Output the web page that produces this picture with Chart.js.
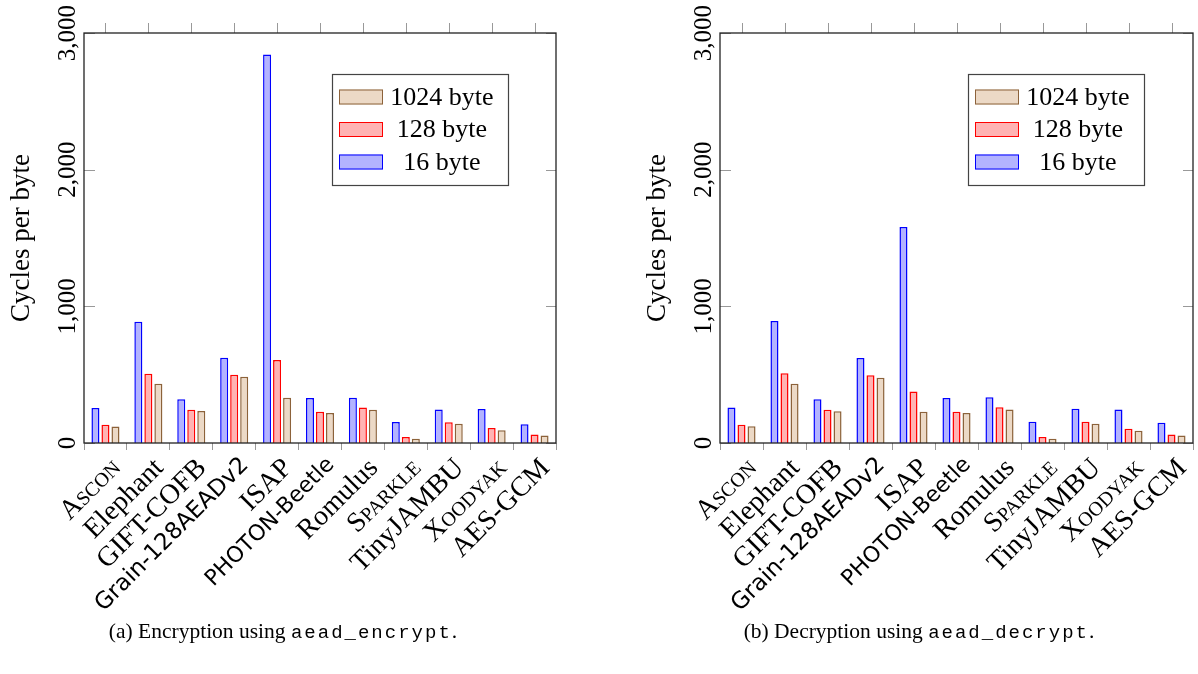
<!DOCTYPE html>
<html>
<head>
<meta charset="utf-8">
<script src="https://cdn.jsdelivr.net/npm/chart.js@4.4.1/dist/chart.umd.min.js"></script>
<style>
    body { margin: 0; background: #fff; width: 1198px; height: 674px; position: relative; overflow: hidden; }
    canvas { position: absolute; top: 0; }
    #encChart { left: 0; }
    #decChart { left: 636px; }
    .caption { position: absolute; top: 619px; white-space: nowrap; transform: translateX(-50%);
               font-family: "Liberation Serif", serif; font-size: 21.5px; color: #000; }
    .caption code { font-family: "Liberation Mono", monospace; font-size: 19px; letter-spacing: 2px; }
</style>
</head>
<body>
<canvas id="encChart" width="570" height="674"></canvas>
<canvas id="decChart" width="562" height="674"></canvas>
<div class="caption" style="left:283px">(a) Encryption using <code>aead_encrypt</code>.</div>
<div class="caption" style="left:919px">(b) Decryption using <code>aead_decrypt</code>.</div>
<script>
// Categories and measured cycles per byte
const schemes = ["Ascon", "Elephant", "GIFT-COFB", "Grain-128AEADv2", "ISAP", "PHOTON-Beetle",
                 "Romulus", "Sparkle", "TinyJAMBU", "Xoodyak", "AES-GCM"];
const seriesLabels = ["16 byte", "128 byte", "1024 byte"];

const enc16   = [256, 888, 320, 624, 2843, 329, 332, 154, 246, 249, 137];
const enc128  = [134, 507, 244, 500, 607, 229, 259, 44, 151, 110, 63];
const enc1024 = [120, 434, 234, 485, 332, 220, 244, 32, 141, 93, 54];

const dec16   = [259, 893, 320, 622, 1580, 329, 334, 156, 251, 246, 149];
const dec128  = [134, 510, 244, 495, 376, 229, 261, 44, 156, 105, 63];
const dec1024 = [122, 434, 232, 478, 229, 220, 246, 32, 141, 90, 54];

const yTickValues = [0, 1000, 2000, 3000];
const yTickLabels = ["0", "1,000", "2,000", "3,000"];

const fills   = ["rgb(179,179,255)", "rgb(255,179,179)", "rgb(236,217,198)"];
const borders = ["rgb(0,0,255)", "rgb(255,0,0)", "rgb(140,98,58)"];

const SERIF = "Liberation Serif";
const smallCaps = [0, 7, 9];         // Ascon, Sparkle, Xoodyak
const sansLabels = { 3: 23, 5: 22 }; // Grain, PHOTON-Beetle

function tickFont(ctx) {
    const i = ctx.index;
    if (sansLabels[i]) return { family: "DejaVu Sans", size: sansLabels[i] };
    if (smallCaps.includes(i)) return { family: SERIF, size: 28, weight: "small-caps" };
    return { family: SERIF, size: 28 };
}

// box, inner ticks, rotated y labels and the legend box
const framePlugin = {
    id: "frame",
    afterDatasetsDraw(chart) {
        const c = chart.ctx;
        const a = chart.chartArea;
        const y = chart.scales.y;
        const x = chart.scales.x;
        c.save();

        c.strokeStyle = "#999";
        c.lineWidth = 1;
        c.beginPath();
        yTickValues.forEach(v => {
            const py = Math.round(y.getPixelForValue(v)) + 0.5;
            c.moveTo(a.left, py); c.lineTo(a.left + 11, py);
            c.moveTo(a.right, py); c.lineTo(a.right - 10, py);
        });
        schemes.forEach((s, i) => {
            const px = Math.round(x.getPixelForTick(i)) + 0.5;
            c.moveTo(px, a.top); c.lineTo(px, a.top - 10);
        });
        c.stroke();

        c.strokeStyle = "#222";
        c.lineWidth = 1.3;
        c.strokeRect(a.left, a.top, a.right - a.left, a.bottom - a.top);

        c.fillStyle = "#000";
        c.font = Chart.helpers.toFont({ family: SERIF, size: 25 }).string;
        c.textAlign = "center";
        c.textBaseline = "middle";
        yTickValues.forEach((v, i) => {
            c.save();
            c.translate(a.left - 16, y.getPixelForValue(v));
            c.rotate(-Math.PI / 2);
            c.fillText(yTickLabels[i], 0, 0);
            c.restore();
        });

        // legend
        const lx = a.left + 248, ly = a.top + 41;
        c.fillStyle = "#fff";
        c.fillRect(lx, ly, 176, 111);
        c.strokeStyle = "#444";
        c.lineWidth = 1.2;
        c.strokeRect(lx + 0.5, ly + 0.5, 176, 111);
        c.font = Chart.helpers.toFont({ family: SERIF, size: 26 }).string;
        const order = [2, 1, 0];
        order.forEach((d, k) => {
            const ds = chart.data.datasets[d];
            const cy = ly + 23 + k * 32.5;
            c.fillStyle = ds.backgroundColor;
            c.fillRect(lx + 7, cy - 7.5, 44, 15);
            c.strokeStyle = ds.borderColor;
            c.lineWidth = 1;
            c.strokeRect(lx + 7.5, cy - 7, 43, 14);
            c.fillStyle = "#000";
            c.fillText(ds.label, lx + 110, cy + 1);
        });
        c.restore();
    }
};

function makeChart(canvasId, v16, v128, v1024, rightPad) {
    const values = [v16, v128, v1024];
    return new Chart(document.getElementById(canvasId), {
        type: "bar",
        data: {
            labels: schemes,
            datasets: seriesLabels.map((label, i) => ({
                label: label,
                data: values[i],
                backgroundColor: fills[i],
                borderColor: borders[i],
                borderWidth: 1.5,
                categoryPercentage: 0.7,
                barPercentage: 0.8
            }))
        },
        options: {
            responsive: false,
            animation: false,
            devicePixelRatio: 1,
            layout: { padding: { left: 0, right: rightPad, top: 33, bottom: 0 } },
            plugins: { legend: { display: false }, tooltip: { enabled: false } },
            scales: {
                x: {
                    grid: { display: true, drawOnChartArea: false, drawTicks: true, tickLength: 7, color: "#999" },
                    border: { display: false },
                    ticks: { autoSkip: false, minRotation: 45, maxRotation: 45, color: "#000", font: tickFont,
                             padding: 2, labelOffset: 11 },
                    afterFit: s => { s.height = 231; }
                },
                y: {
                    min: 0,
                    max: 3000,
                    grid: { display: false },
                    border: { display: false },
                    ticks: { display: false },
                    afterBuildTicks: s => { s.ticks = yTickValues.map(v => ({ value: v })); },
                    afterFit: s => { s.width = 84; },
                    title: { display: true, text: "Cycles per byte", color: "#000",
                             font: { family: SERIF, size: 27 }, padding: { top: 6, bottom: 0 } }
                }
            }
        },
        plugins: [framePlugin]
    });
}

document.addEventListener("DOMContentLoaded", () => {
    makeChart("encChart", enc16, enc128, enc1024, 14);
    makeChart("decChart", dec16, dec128, dec1024, 5);
});
</script>
</body>
</html>
